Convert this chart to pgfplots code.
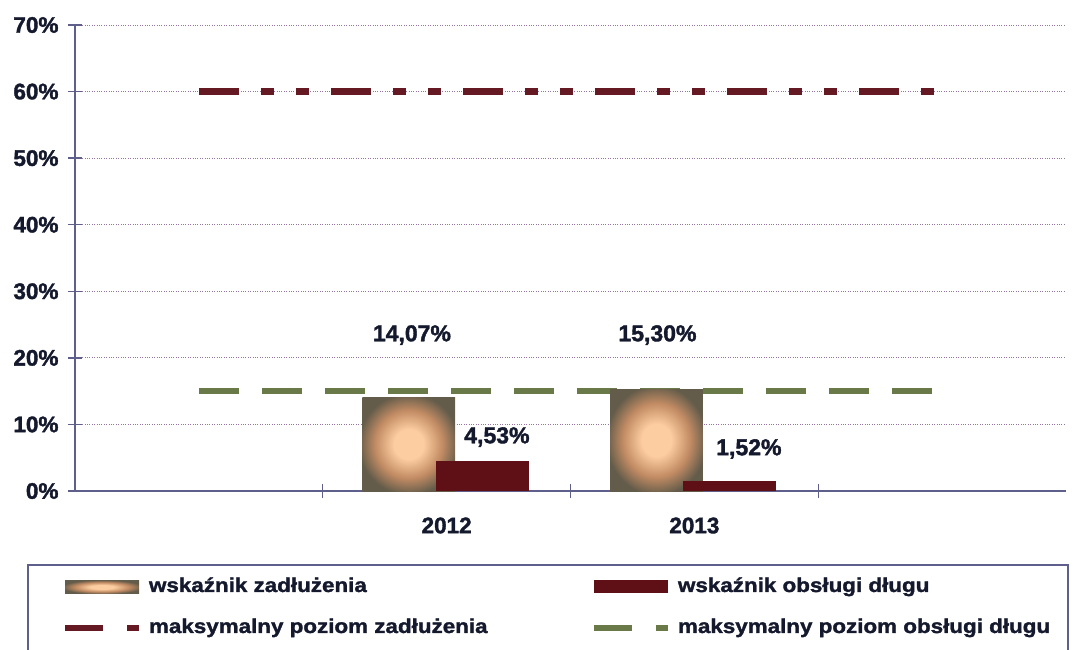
\documentclass[border=0pt]{standalone}
\usepackage{fontspec}
\setmainfont{Liberation Sans}[BoldFeatures={FakeBold=1.6}]
\newfontfamily\legfont{Liberation Sans}[FakeStretch=1.12, BoldFeatures={FakeBold=1.6, FakeStretch=1.12}]
\usepackage{pgfplots}
\pgfplotsset{compat=1.18}
\definecolor{axc}{RGB}{95,95,140}
\definecolor{gridc}{RGB}{150,115,165}
\definecolor{redl}{RGB}{100,25,35}
\definecolor{greenl}{RGB}{105,122,72}
\definecolor{darkbar}{RGB}{95,15,22}
\definecolor{peachc}{RGB}{252,205,160}
\definecolor{midc}{RGB}{195,140,100}
\definecolor{edgec}{RGB}{100,92,74}
\definecolor{txt}{RGB}{20,25,45}
\pgfdeclareradialshading{zad}{\pgfpoint{0bp}{0bp}}{color(0bp)=(peachc); color(8bp)=(peachc); color(18bp)=(midc); color(27bp)=(edgec); color(50bp)=(edgec)}
\begin{document}
\begin{tikzpicture}[x=1pt,y=1pt]
\useasboundingbox (0,0) rectangle (1073,649);
\begin{axis}[
  at={(75pt,158pt)}, anchor=south west,
  scale only axis, width=991pt, height=466pt,
  xmin=-0.5, xmax=3.5, ymin=0, ymax=70,
  axis lines*=left,
  axis line style={draw=axc, line width=1.4pt},
  every tick/.style={draw=axc, line width=1.4pt},
  tick align=center,
  major tick length=14pt, minor tick length=14pt,
  ytick={0,10,...,70},
  yticklabel={\pgfmathprintnumber[assume math mode=true]{\tick}\%},
  ymajorgrids,
  grid style={draw=gridc, dotted, line width=0.9pt},
  xtick={1,2}, xticklabels={2012,2013},
  major x tick style={draw=none},
  minor xtick={0.5,1.5,2.5},
  /pgf/number format/assume math mode=true,
  tick label style={font=\fontsize{22.5}{26}\selectfont\bfseries, text=txt},
  xticklabel style={yshift=-16pt},
  yticklabel style={xshift=-6pt},
  legend columns=2,
  legend style={at={(axis description cs:-0.0131,-0.1845)}, anchor=north west,
    draw=none, fill=none, inner sep=0pt, outer sep=0pt,
    cells={anchor=west},
    nodes={inner sep=0pt, text height=15pt, text depth=5pt, text=txt, font=\legfont\fontsize{20}{24}\selectfont\bfseries},
    row sep=21pt, column sep=0pt,
    /tikz/every odd column/.append style={column sep=7pt}},
]
\addplot[ybar, bar width=0.375, bar shift=-0.153, draw=none, shade, shading=zad,
  legend image code/.code={\shade[shading=zad] (0pt,-6.5pt) rectangle (74pt,6.5pt);}]
  coordinates {(1,14.07)};
\addlegendentry{\makebox[442pt][l]{wskaźnik zadłużenia}}
\addplot[ybar, bar width=0.375, bar shift=0.143, draw=none, fill=darkbar,
  legend image code/.code={\fill[darkbar] (0pt,-6.5pt) rectangle (74pt,6.5pt);}]
  coordinates {(1,4.53)};
\addlegendentry{wskaźnik obsługi długu}
\addplot[redl, line width=7.5pt, dash pattern=on 40pt off 22pt on 13pt off 22pt on 13pt off 22pt,
  legend image code/.code={\draw[redl, line width=6pt] (0pt,0pt) -- (38pt,0pt); \draw[redl, line width=6pt] (62pt,0pt) -- (74pt,0pt);}]
  coordinates {(0,60) (1,60) (2,60) (3,60)};
\addlegendentry{\makebox[442pt][l]{maksymalny poziom zadłużenia}}
\addplot[greenl, line width=6pt, dash pattern=on 40pt off 23pt,
  legend image code/.code={\draw[greenl, line width=6pt] (0pt,0pt) -- (38pt,0pt); \draw[greenl, line width=6pt] (62pt,0pt) -- (74pt,0pt);}]
  coordinates {(0,15) (1,15) (2,15) (3,15)};
\addlegendentry{maksymalny poziom obsługi długu}
\addplot[ybar, bar width=0.375, bar shift=-0.153, draw=none, shade, shading=zad, forget plot]
  coordinates {(2,15.30)};
\addplot[ybar, bar width=0.375, bar shift=0.143, draw=none, fill=darkbar, forget plot]
  coordinates {(2,1.52)};
\begin{scope}[every node/.style={font=\fontsize{23}{27}\selectfont\bfseries, text=txt}]
\node at (axis cs:0.860,23.43) {14,07\%};
\node at (axis cs:1.851,23.43) {15,30\%};
\node at (axis cs:1.203,8.11) {4,53\%};
\node at (axis cs:2.220,6.31) {1,52\%};
\end{scope}
\end{axis}
\draw[axc, line width=1.2pt] (28,-2) -- (28,84) -- (1068,84) -- (1068,-2);
\end{tikzpicture}
\end{document}
